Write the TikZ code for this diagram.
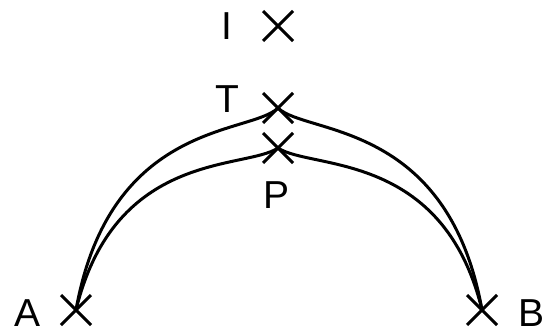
\documentclass[tikz,border=0pt]{standalone}
\usepackage{fontspec}
\setmainfont{Liberation Sans}
\usetikzlibrary{shapes.misc}
\tikzset{
  crossmark/.style={draw, cross out, line width=3pt, minimum size=27pt, inner sep=0pt},
  ptlabel/.style={inner sep=0pt, font=\fontsize{39}{39}\selectfont},
  pathline/.style={line width=3pt}
}

\begin{document}
\begin{tikzpicture}[x=1pt, y=1pt]
    \useasboundingbox (0,0) rectangle (556,330);

    % Points
    \node[crossmark] (i) at (278,304) {};
    \node[crossmark] (t) at (278,222) {};
    \node[crossmark] (p) at (278,182) {};
    \node[crossmark] (a) at (76,20) {};
    \node[crossmark] (b) at (482,20) {};

    % Labels
    \node[ptlabel] (ilabel) at (227,304) {I};
    \node[ptlabel] (tlabel) at (227,231) {T};
    \node[ptlabel] (plabel) at (277,135) {P};
    \node[ptlabel] (alabel) at (28,17) {A};
    \node[ptlabel] (blabel) at (531,17) {B};

    % Curves from A
    \draw[pathline] (a.center) .. controls +(34,190) and +(-28,-27) .. (t.center);
    \draw[pathline] (a.center) .. controls +(39,160) and +(-33,-22) .. (p.center);

    % Curves from B
    \draw[pathline] (b.center) .. controls +(-34,190) and +(28,-27) .. (t.center);
    \draw[pathline] (b.center) .. controls +(-39,160) and +(33,-22) .. (p.center);
\end{tikzpicture}
\end{document}
